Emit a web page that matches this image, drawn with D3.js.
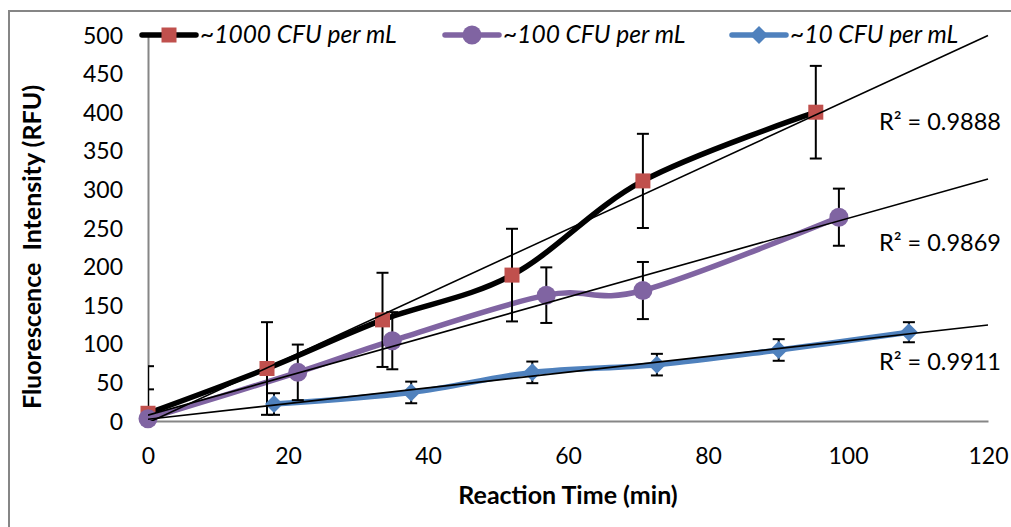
<!DOCTYPE html>
<html><head><meta charset="utf-8">
<script src="https://cdn.jsdelivr.net/npm/d3@7"></script>
<style>
body{margin:0;background:#fff}
svg text{font-family:Lato,"Noto Sans",sans-serif;fill:#000}
</style>
</head><body>
<svg id="chart" width="1011" height="527"></svg>
<script>
// ---- data ----
const xTicks = [0, 20, 40, 60, 80, 100, 120];
const yTicks = [0, 50, 100, 150, 200, 250, 300, 350, 400, 450, 500];
const seriesNames = ["~1000 CFU per mL", "~100 CFU per mL", "~10 CFU per mL"];
const time1000 = [0, 17, 33.5, 52, 70.7, 95.4];
const rfu1000  = [10, 68, 131, 189, 311, 400];
const err1000  = [61, 60, 61, 60, 61, 60];
const time100  = [0, 21.4, 34.9, 56.9, 70.7, 98.7];
const rfu100   = [3, 63, 104, 163, 169, 264];
const err100   = [38, 36, 37, 36, 37, 37];
const time10   = [18, 37.6, 54.9, 72.7, 90.1, 108.7];
const rfu10    = [22, 37, 63, 73, 92, 115];
const err10    = [14, 14, 14, 14, 14, 13];
const r2Labels = ["R\u00B2 = 0.9888", "R\u00B2 = 0.9869", "R\u00B2 = 0.9911"];
const xTitle = "Reaction Time (min)";
const yTitle = "Fluorescence  Intensity (RFU)";

// ---- build ----
const series = [
  {name: seriesNames[0], t: time1000, v: rfu1000, e: err1000, line: "#000000", mark: "#C0504D", shape: "square"},
  {name: seriesNames[1], t: time100, v: rfu100, e: err100, line: "#8064A2", mark: "#8064A2", shape: "circle"},
  {name: seriesNames[2], t: time10, v: rfu10, e: err10, line: "#4F81BD", mark: "#4F81BD", shape: "diamond"}
].map(s => ({...s, pts: s.t.map((t, i) => ({x: t, y: s.v[i], e: s.e[i]}))}));

const svg = d3.select("#chart");
const W = 1011, H = 527;
const plot = {left: 148, right: 988, top: 35, bottom: 421};
const x = d3.scaleLinear().domain([0, 120]).range([plot.left, plot.right]);
const y = d3.scaleLinear().domain([0, 500]).range([plot.bottom, plot.top]);

// outer chart border
svg.append("rect").attr("x", 9).attr("y", 11).attr("width", W + 10).attr("height", H + 10)
  .attr("fill", "none").attr("stroke", "#868686").attr("stroke-width", 2);

svg.append("defs").append("clipPath").attr("id", "clip").append("rect")
  .attr("x", plot.left).attr("y", plot.top - 2).attr("width", plot.right - plot.left + 2).attr("height", plot.bottom - plot.top + 2);

const fs = 23;
// axes
const gx = svg.append("g").attr("transform", `translate(0,${plot.bottom})`)
  .call(d3.axisBottom(x).tickValues(xTicks).tickSize(0).tickPadding(27));
const gy = svg.append("g").attr("transform", `translate(${plot.left},0)`)
  .call(d3.axisLeft(y).tickValues(yTicks).tickSize(0).tickPadding(25));
[gx, gy].forEach(g => {
  g.select(".domain").attr("stroke", "#868686").attr("stroke-width", 2);
  g.selectAll("text").attr("font-size", fs).attr("font-family", "Lato");
});
gy.selectAll("text").attr("dy", "0.35em");

svg.append("text").attr("x", 568).attr("y", 504).attr("text-anchor", "middle")
  .attr("font-size", 25).attr("font-weight", "bold").text(xTitle);
svg.append("text").attr("transform", "translate(41,247) rotate(-90)").attr("text-anchor", "middle")
  .attr("font-size", 25).attr("font-weight", "bold").style("white-space", "pre").text(yTitle);

// series lines
const lineGen = d3.line().x(d => x(d.x)).y(d => y(d.y)).curve(d3.curveCardinal.tension(0));
svg.append("g").selectAll("path").data(series).join("path")
  .attr("d", s => lineGen(s.pts)).attr("fill", "none")
  .attr("stroke", s => s.line).attr("stroke-width", 5.5).attr("stroke-linejoin", "round").attr("stroke-linecap", "round");

// error bars
const eg = svg.append("g").attr("clip-path", "url(#clip)").attr("stroke", "#000").attr("stroke-width", 2);
series.forEach(s => s.pts.forEach(p => {
  const cx = x(p.x), y1 = y(p.y - p.e), y2 = y(p.y + p.e);
  eg.append("line").attr("x1", cx).attr("x2", cx).attr("y1", y1).attr("y2", y2);
  eg.append("line").attr("x1", cx - 6).attr("x2", cx + 6).attr("y1", y1).attr("y2", y1);
  eg.append("line").attr("x1", cx - 6).attr("x2", cx + 6).attr("y1", y2).attr("y2", y2);
}));

// markers
function drawMarker(g, shape, color, cx, cy) {
  if (shape === "square") g.append("rect").attr("x", cx - 7.5).attr("y", cy - 7.5).attr("width", 15).attr("height", 15).attr("fill", color);
  else if (shape === "circle") g.append("circle").attr("cx", cx).attr("cy", cy).attr("r", 9.5).attr("fill", color);
  else g.append("path").attr("d", `M${cx},${cy - 9}L${cx + 9},${cy}L${cx},${cy + 9}L${cx - 9},${cy}Z`).attr("fill", color);
}
const mg = svg.append("g");
series.forEach(s => s.pts.forEach(p => drawMarker(mg, s.shape, s.mark, x(p.x), y(p.y))));

// linear trendlines (least squares of each series, drawn 0..120)
const tg = svg.append("g").attr("clip-path", "url(#clip)");
series.forEach(s => {
  const mx = d3.mean(s.pts, d => d.x), my = d3.mean(s.pts, d => d.y);
  const slope = d3.sum(s.pts, d => (d.x - mx) * (d.y - my)) / d3.sum(s.pts, d => (d.x - mx) ** 2);
  const b = my - slope * mx;
  tg.append("line").attr("x1", x(0)).attr("y1", y(b)).attr("x2", x(120)).attr("y2", y(b + slope * 120))
    .attr("stroke", "#000").attr("stroke-width", 1.6);
});

// R² labels
const r2Y = [130, 251, 370];
r2Labels.forEach((t, i) => svg.append("text").attr("x", 879).attr("y", r2Y[i]).attr("font-size", 23.5).text(t));

// legend
const lg = svg.append("g");
const legendX = [142, 445, 732];
series.forEach((s, i) => {
  const lx = legendX[i], ly = 35;
  lg.append("line").attr("x1", lx).attr("x2", lx + 54).attr("y1", ly).attr("y2", ly)
    .attr("stroke", s.line).attr("stroke-width", 5.5).attr("stroke-linecap", "round");
  drawMarker(lg, s.shape, s.mark, lx + 27, ly);
  lg.append("text").attr("x", lx + 58).attr("y", ly + 8).attr("font-size", 24.5).attr("font-style", "italic").text(s.name);
});
</script>
</body></html>
